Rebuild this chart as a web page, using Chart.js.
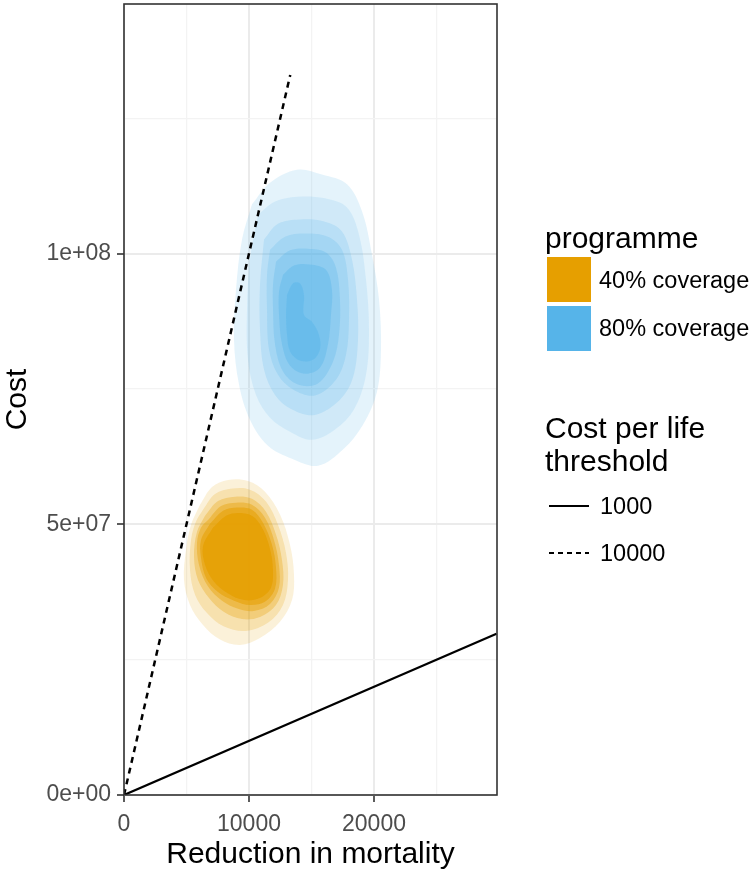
<!DOCTYPE html>
<html>
<head>
<meta charset="utf-8">
<script src="https://cdn.jsdelivr.net/npm/chart.js@4.4.1/dist/chart.umd.min.js"></script>
<style>
  body { margin: 0; background: #fff; font-family: 'Liberation Sans', Arial, sans-serif; }
  #wrap { position: relative; width: 754px; height: 875px; }
  #c { position: absolute; left: 0; top: 0; }
  .lg { position: absolute; color: #000; white-space: nowrap; }
  .ttl { font-size: 30px; line-height: 33px; }
  .lab { font-size: 23.5px; line-height: 23.5px; }
  .key { position: absolute; width: 44px; height: 45px; }
</style>
</head>
<body>
<div id="wrap">
  <canvas id="c" width="754" height="875"></canvas>
  <div class="lg ttl" style="left:545px; top:221px;">programme</div>
  <div class="key" style="left:547px; top:257px; background:#E69F00;"></div>
  <div class="lg lab" style="left:599px; top:269px;">40% coverage</div>
  <div class="key" style="left:547px; top:306px; background:#56B4E9;"></div>
  <div class="lg lab" style="left:599px; top:317px;">80% coverage</div>
  <div class="lg ttl" style="left:545px; top:411px;">Cost per life<br>threshold</div>
  <svg class="lg" style="left:547px; top:496px;" width="44" height="20">
    <line x1="2" y1="10" x2="42" y2="10" stroke="#000" stroke-width="2.2"/>
  </svg>
  <div class="lg lab" style="left:600px; top:495px;">1000</div>
  <svg class="lg" style="left:547px; top:543px;" width="44" height="20">
    <line x1="2" y1="10" x2="42" y2="10" stroke="#000" stroke-width="2.2" stroke-dasharray="5,4"/>
  </svg>
  <div class="lg lab" style="left:600px; top:542px;">10000</div>
</div>
<script>
// ----- DATA -----
// axis breaks (major ones get labels, the rest are minor grid lines)
const reductionBreaks = [0, 5000, 10000, 15000, 20000, 25000];
const reductionMajor = [0, 10000, 20000];
const costBreaks = [0, 2.5e7, 5e7, 7.5e7, 1e8, 1.25e8];
const costMajor = [0, 5e7, 1e8];
const costLabels = ['0e+00', '5e+07', '1e+08'];

// cost-per-life threshold lines (reduction, cost)
const threshold1000 = [[0, 0], [29800, 29.8e6]];
const threshold10000 = [[0, 0], [13300, 133e6]];

// density contour rings, outermost first: [reduction in mortality, cost]
const coverage40 = [
  [[6080, 53.6e6], [7040, 56.9e6], [8320, 58.2e6], [9920, 58.0e6], [11280, 56.0e6], [12480, 51.8e6], [13280, 46.2e6], [13600, 40.7e6], [13440, 36.0e6], [12480, 32.0e6], [10880, 29.0e6], [9280, 27.7e6], [7680, 28.7e6], [6320, 31.4e6], [5280, 35.1e6], [4800, 39.7e6], [4960, 45.3e6], [5360, 49.9e6]],
  [[6320, 52.7e6], [7280, 55.6e6], [8640, 56.6e6], [10080, 56.4e6], [11360, 54.2e6], [12320, 49.9e6], [12960, 44.7e6], [13120, 39.7e6], [12720, 35.1e6], [11520, 31.8e6], [9760, 30.3e6], [8000, 31.1e6], [6640, 33.6e6], [5680, 37.0e6], [5280, 41.6e6], [5360, 47.1e6], [5760, 50.5e6]],
  [[6480, 51.6e6], [7520, 54.3e6], [8880, 55.1e6], [10240, 54.7e6], [11360, 52.3e6], [12160, 48.1e6], [12640, 43.4e6], [12720, 38.8e6], [12160, 35.1e6], [10880, 32.9e6], [9440, 32.5e6], [8000, 33.8e6], [6800, 36.4e6], [5920, 39.7e6], [5600, 44.0e6], [5840, 48.6e6]],
  [[6720, 50.8e6], [7760, 53.4e6], [8960, 54.0e6], [10240, 53.6e6], [11280, 51.2e6], [12000, 47.1e6], [12400, 42.5e6], [12400, 38.3e6], [11680, 35.3e6], [10400, 34.0e6], [9120, 34.4e6], [7840, 35.9e6], [6720, 38.5e6], [6000, 42.5e6], [5840, 46.6e6], [6160, 49.4e6]],
  [[6880, 50.1e6], [7920, 52.5e6], [9040, 53.1e6], [10240, 52.7e6], [11120, 50.3e6], [11840, 46.2e6], [12160, 42.0e6], [12080, 38.1e6], [11280, 35.7e6], [10080, 35.1e6], [8800, 35.9e6], [7520, 37.5e6], [6560, 40.1e6], [6160, 43.8e6], [6160, 47.1e6]],
  [[7120, 49.4e6], [8160, 51.6e6], [9120, 52.1e6], [10240, 51.6e6], [11040, 49.4e6], [11680, 45.5e6], [11920, 41.6e6], [11760, 38.3e6], [10880, 36.4e6], [9600, 36.0e6], [8320, 37.2e6], [7200, 39.4e6], [6480, 42.5e6], [6320, 46.0e6]]
];

const coverage80 = [
  [[10240, 109.1e6], [11680, 113.1e6], [13840, 115.5e6], [15840, 114.6e6], [17840, 112.8e6], [19040, 107.8e6], [19840, 99.8e6], [20400, 91.5e6], [20560, 82.3e6], [20240, 74.5e6], [19120, 68.4e6], [17520, 63.8e6], [15520, 60.8e6], [13440, 62.1e6], [11520, 64.5e6], [10080, 69.3e6], [9200, 75.8e6], [8800, 84.1e6], [8960, 93.3e6], [9440, 102.6e6]],
  [[10720, 107.2e6], [12080, 109.6e6], [13840, 110.5e6], [16080, 110.2e6], [17840, 108.5e6], [18800, 103.5e6], [19360, 95.2e6], [19600, 86.0e6], [19360, 77.6e6], [18400, 71.2e6], [16880, 67.5e6], [15040, 65.6e6], [13280, 67.1e6], [11680, 69.7e6], [10560, 73.9e6], [9920, 80.4e6], [9840, 89.7e6], [10080, 98.9e6]],
  [[11200, 102.6e6], [12320, 105.5e6], [14080, 106.3e6], [16080, 105.9e6], [17440, 104.1e6], [18240, 98.9e6], [18640, 91.5e6], [18720, 84.1e6], [18320, 77.1e6], [17280, 73.0e6], [15280, 70.2e6], [13440, 71.2e6], [12080, 73.9e6], [11200, 78.6e6], [10880, 86.0e6], [10880, 94.3e6]],
  [[11680, 100.7e6], [12880, 103.1e6], [14480, 103.7e6], [16320, 103.1e6], [17440, 100.7e6], [17920, 95.2e6], [18000, 87.8e6], [17760, 81.3e6], [16960, 76.7e6], [15280, 73.8e6], [13520, 74.9e6], [12320, 77.6e6], [11600, 82.3e6], [11440, 89.7e6], [11440, 96.1e6]],
  [[12160, 98.5e6], [13280, 100.6e6], [14720, 100.9e6], [16160, 100.2e6], [16960, 97.4e6], [17280, 91.5e6], [17200, 85.0e6], [16720, 80.0e6], [15520, 76.0e6], [13920, 75.8e6], [12720, 78.2e6], [12080, 83.2e6], [11920, 89.7e6], [11920, 94.3e6]],
  [[12720, 96.1e6], [13600, 97.8e6], [14880, 98.0e6], [16160, 97.0e6], [16640, 93.3e6], [16560, 88.7e6], [16320, 83.2e6], [15680, 78.9e6], [14480, 77.8e6], [13280, 79.3e6], [12640, 83.2e6], [12400, 88.7e6], [12400, 93.0e6]],
  [[13040, 92.4e6], [13520, 94.5e6], [14080, 94.5e6], [14400, 92.4e6], [14400, 88.7e6], [15040, 87.4e6], [15600, 85.0e6], [15680, 82.3e6], [15120, 80.4e6], [14080, 80.2e6], [13280, 81.9e6], [13040, 85.0e6], [12960, 88.7e6]]
];

// ----- STYLE -----
const orangeRGB = '230,159,0';
const blueRGB = '86,180,233';
const orangeAlpha = [0.15, 0.2, 0.3, 0.4, 0.55, 0.75];
const blueAlpha = [0.16, 0.14, 0.19, 0.21, 0.28, 0.36, 0.43];

Chart.defaults.font.family = "'Liberation Sans', Arial, sans-serif";

function toPoints(ring, closed) {
  const pts = ring.map(p => ({ x: p[0], y: p[1] }));
  if (closed) pts.push({ x: ring[0][0], y: ring[0][1] });
  return pts;
}

function contourSets(rings, rgb, alphas) {
  return rings.map((ring, i) => ({
    data: toPoints(ring, true),
    showLine: true,
    fill: 'shape',
    backgroundColor: `rgba(${rgb},${alphas[i]})`,
    borderWidth: 0,
    borderColor: 'rgba(0,0,0,0)',
    pointRadius: 0,
    tension: 0.35,
    order: 50 - i
  }));
}

const datasets = [
  ...contourSets(coverage40, orangeRGB, orangeAlpha),
  ...contourSets(coverage80, blueRGB, blueAlpha),
  {
    data: toPoints(threshold1000, false),
    showLine: true, fill: false, pointRadius: 0,
    borderColor: '#000', borderWidth: 2.2, order: 0
  },
  {
    data: toPoints(threshold10000, false),
    showLine: true, fill: false, pointRadius: 0,
    borderColor: '#000', borderWidth: 2.5, borderDash: [6, 5], order: 0
  }
];

const panelBorder = {
  id: 'panelBorder',
  afterDatasetsDraw(chart) {
    const { ctx, chartArea: a } = chart;
    ctx.save();
    ctx.strokeStyle = '#333333';
    ctx.lineWidth = 1.6;
    ctx.strokeRect(a.left, a.top, a.right - a.left, a.bottom - a.top);
    ctx.restore();
  }
};

const isMajorX = v => reductionMajor.includes(v);
const isMajorY = v => costMajor.includes(v);

new Chart(document.getElementById('c'), {
  type: 'scatter',
  data: { datasets },
  plugins: [panelBorder],
  options: {
    responsive: false,
    animation: false,
    events: [],
    layout: { padding: { left: 0, top: 4, right: 257, bottom: 0 } },
    plugins: { legend: { display: false }, tooltip: { enabled: false } },
    scales: {
      x: {
        type: 'linear',
        min: 0,
        max: 29840,
        afterBuildTicks(scale) { scale.ticks = reductionBreaks.map(v => ({ value: v })); },
        afterFit(scale) {
          scale.height = 80;
          scale.paddingLeft = 0;
          scale.paddingRight = 0;
        },
        border: { display: false },
        grid: {
          color: c => isMajorX(c.tick.value) ? '#EBEBEB' : '#F3F3F3',
          lineWidth: c => isMajorX(c.tick.value) ? 2 : 1.3,
          tickColor: c => isMajorX(c.tick.value) ? '#333333' : 'rgba(0,0,0,0)',
          tickLength: 7,
          tickWidth: 1.6
        },
        ticks: {
          autoSkip: false,
          maxRotation: 0,
          padding: 9,
          color: '#4D4D4D',
          font: { size: 23 },
          callback: v => isMajorX(v) ? String(v) : ''
        },
        title: {
          display: true,
          text: 'Reduction in mortality',
          color: '#000',
          font: { size: 30 },
          padding: { top: 0, bottom: 2 }
        }
      },
      y: {
        type: 'linear',
        min: 0,
        max: 1.461e8,
        afterBuildTicks(scale) { scale.ticks = costBreaks.map(v => ({ value: v })); },
        afterFit(scale) {
          scale.width = 124;
          scale.paddingTop = 0;
          scale.paddingBottom = 0;
        },
        border: { display: false },
        grid: {
          color: c => isMajorY(c.tick.value) ? '#EBEBEB' : '#F3F3F3',
          lineWidth: c => isMajorY(c.tick.value) ? 2 : 1.3,
          tickColor: c => isMajorY(c.tick.value) ? '#333333' : 'rgba(0,0,0,0)',
          tickLength: 7,
          tickWidth: 1.6
        },
        ticks: {
          autoSkip: false,
          padding: 6,
          color: '#4D4D4D',
          font: { size: 23 },
          callback: v => isMajorY(v) ? costLabels[costMajor.indexOf(v)] : ''
        },
        title: {
          display: true,
          text: 'Cost',
          color: '#000',
          font: { size: 30 },
          padding: { top: 0, bottom: 0 }
        }
      }
    }
  }
});
</script>
</body>
</html>
